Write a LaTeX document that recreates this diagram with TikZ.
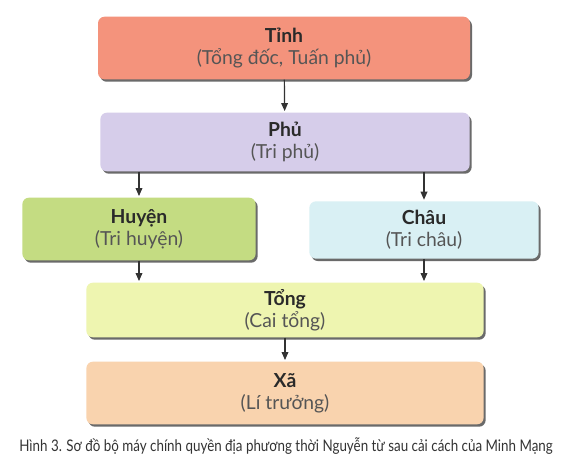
\documentclass[tikz,border=0pt]{standalone}
\usepackage{fontspec}
\setmainfont{Lato}
\usepackage{graphicx}
\usetikzlibrary{arrows.meta,shadows}
\definecolor{ctinh}{HTML}{F4937C}
\definecolor{cphu}{HTML}{D6CDEA}
\definecolor{chuyen}{HTML}{C4DC82}
\definecolor{cchau}{HTML}{D9F0F4}
\definecolor{ctong}{HTML}{EEF5B0}
\definecolor{cxa}{HTML}{F9D3AE}
\definecolor{ctitle}{HTML}{2A2A2A}
\definecolor{csub}{HTML}{555555}
\definecolor{cshadow}{HTML}{6A6A6A}
\begin{document}
\begin{tikzpicture}[x=0.75pt,y=-0.75pt,
  unitbox/.style={rounded corners=5pt, draw=none, inner sep=0pt, align=center,
    general shadow={shadow xshift=1.5pt, shadow yshift=-1.8pt, fill=cshadow},
    font=\fontsize{14.5}{16.5}\selectfont, text=csub},
  arr/.style={draw=black!80, line width=0.9pt, -{Triangle[length=6pt,width=5pt]}, shorten >=1pt}]
\useasboundingbox (0,0) rectangle (562,461);
\fill[white] (0,0) rectangle (562,461);
\node[unitbox, fill=ctinh, minimum width=279pt, minimum height=47pt] (tinh) at (284,48)
  {\textbf{\textcolor{ctitle}{Tỉnh}}\\(Tổng đốc, Tuấn phủ)};
\node[unitbox, fill=cphu, minimum width=277pt, minimum height=44pt] (phu) at (285,142)
  {\textbf{\textcolor{ctitle}{Phủ}}\\(Tri phủ)};
\node[unitbox, fill=chuyen, minimum width=175pt, minimum height=47pt] (huyen) at (139,229)
  {\textbf{\textcolor{ctitle}{Huyện}}\\(Tri huyện)};
\node[unitbox, fill=cchau, minimum width=172pt, minimum height=43pt] (chau) at (424,230)
  {\textbf{\textcolor{ctitle}{Châu}}\\(Tri châu)};
\node[unitbox, fill=ctong, minimum width=298pt, minimum height=41pt] (tong) at (285,310)
  {\textbf{\textcolor{ctitle}{Tổng}}\\(Cai tổng)};
\node[unitbox, fill=cxa, minimum width=298pt, minimum height=47pt] (xa) at (285,393)
  {\textbf{\textcolor{ctitle}{Xã}}\\(Lí trưởng)};
\node[inner sep=0pt, text=black!80, font=\fontsize{12}{14}\selectfont] (cap) at (286,446)
  {\resizebox{400pt}{\height}{Hình 3. Sơ đồ bộ máy chính quyền địa phương thời Nguyễn từ sau cải cách của Minh Mạng}};
\draw[arr] (tinh) -- (phu);
\draw[arr] (phu.south -| huyen) -- (huyen);
\draw[arr] (phu.south -| chau) -- (chau);
\draw[arr] (huyen) -- (huyen |- tong.north);
\draw[arr] (chau) -- (chau |- tong.north);
\draw[arr] (tong) -- (xa);
\end{tikzpicture}
\end{document}
